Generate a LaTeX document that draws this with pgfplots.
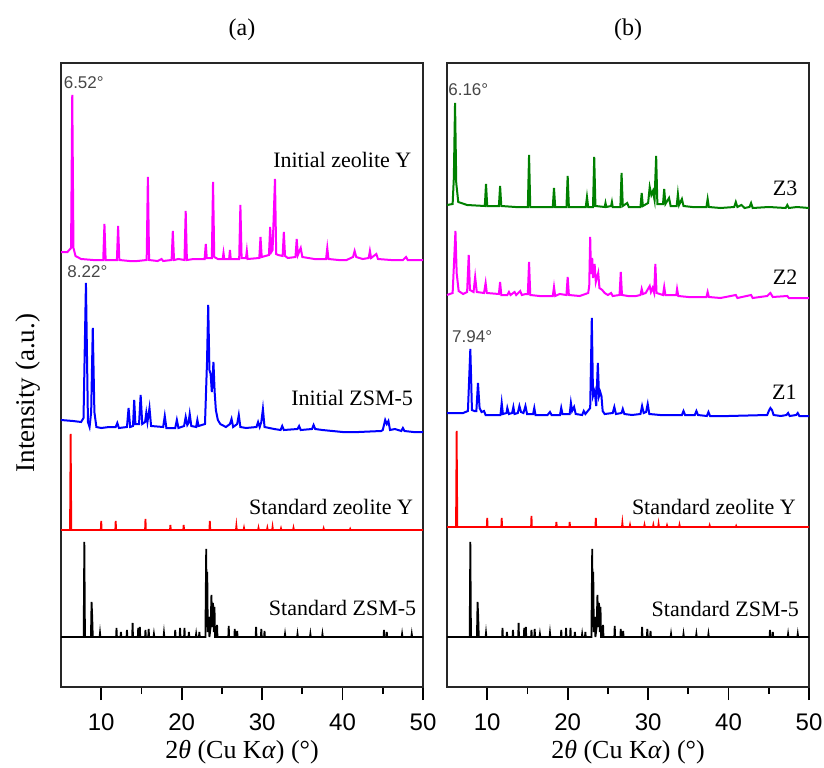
\documentclass[border=0pt]{standalone}
\usepackage{fontspec}
\setmainfont{Liberation Serif}
\newfontfamily\arial{Liberation Sans}
\usepackage{pgfplots}
\usepackage{pgfplotstable}
\pgfplotsset{compat=1.18}

\definecolor{zmag}{RGB}{255,0,255}
\definecolor{zblue}{RGB}{0,0,255}
\definecolor{zred}{RGB}{255,0,0}
\definecolor{zgreen}{RGB}{0,128,0}
\definecolor{pklab}{RGB}{70,70,70}

% standard patterns (intensity above own baseline, arbitrary units)
\pgfplotstableread[row sep=\\]{t I\\
5 0\\ 7.82 0\\ 7.9 95\\ 7.98 0\\ 8.72 0\\ 8.8 35\\ 8.88 20\\ 8.95 0\\ 9.8 0\\ 9.85 4\\ 9.9 0\\
11.85 0\\ 11.9 9\\ 11.95 0\\ 12.4 0\\ 12.45 5\\ 12.5 0\\ 13.15 0\\ 13.2 7\\ 13.25 0\\
13.85 0\\ 13.9 14\\ 13.95 0\\ 14.55 0\\ 14.6 9\\ 14.65 0\\ 14.75 0\\ 14.8 10\\ 14.85 0\\
15.45 0\\ 15.5 7\\ 15.55 0\\ 15.85 0\\ 15.9 8\\ 15.95 0\\ 16.5 0\\ 16.55 3\\ 16.6 0\\
17.75 0\\ 17.8 4\\ 17.85 0\\ 19.15 0\\ 19.2 7\\ 19.25 0\\ 19.75 0\\ 19.8 9\\ 19.85 0\\
20.3 0\\ 20.35 9\\ 20.4 0\\ 20.85 0\\ 20.9 5\\ 20.95 0\\ 21.75 0\\ 21.8 3\\ 21.85 0\\
22.15 0\\ 22.2 5\\ 22.25 0\\ 22.95 0\\ 23.05 88\\ 23.12 10\\ 23.18 65\\ 23.25 5\\ 23.35 20\\
23.45 0\\ 23.6 10\\ 23.7 42\\ 23.8 10\\ 23.9 34\\ 24.0 5\\ 24.08 30\\ 24.15 0\\
24.35 0\\ 24.4 12\\ 24.45 0\\ 25.8 0\\ 25.85 11\\ 25.9 0\\ 26.55 0\\ 26.6 8\\ 26.65 0\\
26.85 0\\ 26.9 6\\ 26.95 0\\ 29.2 0\\ 29.25 10\\ 29.3 0\\ 29.85 0\\ 29.9 8\\ 29.95 0\\
30.25 0\\ 30.3 6\\ 30.35 0\\ 32.8 0\\ 32.85 3\\ 32.9 0\\ 34.35 0\\ 34.4 3\\ 34.45 0\\
35.95 0\\ 36.0 3\\ 36.05 0\\ 37.45 0\\ 37.5 3\\ 37.55 0\\ 45.1 0\\ 45.15 7\\ 45.2 0\\
45.45 0\\ 45.5 5\\ 45.55 0\\ 47.35 0\\ 47.4 3\\ 47.45 0\\ 48.55 0\\ 48.6 3\\ 48.65 0\\ 50 0\\
}\stdZSM

\pgfplotstableread[row sep=\\]{t I\\
5 0\\ 6.12 0\\ 6.2 96\\ 6.28 0\\ 9.95 0\\ 10.0 9\\ 10.05 0\\ 11.75 0\\ 11.8 9\\ 11.85 0\\
15.45 0\\ 15.5 11\\ 15.55 0\\ 18.55 0\\ 18.6 5\\ 18.65 0\\ 20.2 0\\ 20.25 5\\ 20.3 0\\
23.45 0\\ 23.5 9\\ 23.55 0\\ 26.75 0\\ 26.8 4\\ 26.85 0\\ 27.7 0\\ 27.75 2\\ 27.8 0\\
29.5 0\\ 29.55 2\\ 29.6 0\\ 30.6 0\\ 30.65 2\\ 30.7 0\\ 31.25 0\\ 31.3 3\\ 31.35 0\\
32.3 0\\ 32.35 1.5\\ 32.4 0\\ 33.85 0\\ 33.9 2\\ 33.95 0\\ 37.6 0\\ 37.65 1.5\\ 37.7 0\\
40.9 0\\ 40.95 1\\ 41.0 0\\ 50 0\\
}\stdY

% measured patterns
\pgfplotstableread[row sep=\\]{t I\\
5 8\\ 5.8 8\\ 6.25 12\\ 6.4 165\\ 6.55 12\\ 6.8 4\\ 7.5 1\\ 9.0 0\\ 10.25 0\\ 10.4 36\\ 10.55 0\\
11.95 0\\ 12.1 34\\ 12.25 0\\ 13.5 -1\\ 14.5 -1\\ 15.65 0\\ 15.8 83\\ 15.95 0\\ 17.0 -1\\
17.5 1\\ 17.7 -1\\ 18.75 0\\ 18.9 29\\ 19.05 0\\ 19.6 1\\ 20.35 0\\ 20.5 49\\ 20.65 0\\
21.5 1\\ 22.85 1\\ 23.0 16\\ 23.12 2\\ 23.75 2\\ 23.9 78\\ 24.05 3\\ 24.5 1\\ 25.1 1\\
25.2 7\\ 25.3 1\\ 25.9 1\\ 26.0 10\\ 26.1 1\\ 27.15 1\\ 27.3 55\\ 27.45 2\\ 28.0 2\\
28.1 9\\ 28.2 1\\ 29.65 2\\ 29.8 23\\ 29.95 3\\ 30.85 5\\ 31.0 33\\ 31.15 8\\ 31.3 10\\
31.6 81\\ 31.75 6\\ 32.0 5\\ 32.55 4\\ 32.7 28\\ 32.85 4\\ 33.2 2\\ 34.15 3\\ 34.3 21\\
34.45 5\\ 34.8 12\\ 35.0 3\\ 36.5 1\\ 37.95 1\\ 38.1 12\\ 38.25 1\\ 39.5 0\\ 40.5 0\\
41.3 3\\ 41.5 9\\ 41.7 3\\ 42.5 1\\ 43.25 2\\ 43.4 9\\ 43.55 2\\ 44.2 6\\ 44.4 1\\ 46 0\\
47.5 0\\ 47.9 3\\ 48.1 0\\ 50 0\\
}\iniY

\pgfplotstableread[row sep=\\]{t I\\
5 12\\ 6.5 11\\ 7.5 10\\ 7.8 14\\ 8.1 149\\ 8.35 10\\ 8.55 5\\ 8.75 20\\ 8.95 104\\ 9.15 20\\
9.4 5\\ 10 4\\ 11 5\\ 11.8 5\\ 12.0 9\\ 12.2 4\\ 13.2 5\\ 13.4 24\\ 13.6 5\\ 13.95 6\\
14.1 32\\ 14.25 8\\ 14.7 8\\ 14.9 37\\ 15.1 8\\ 15.45 10\\ 15.6 19\\ 15.75 10\\ 16.0 24\\
16.2 6\\ 17.7 5\\ 17.9 16\\ 18.1 4\\ 19.2 4\\ 19.4 12\\ 19.6 4\\ 20.3 6\\ 20.5 15\\ 20.7 7\\
20.85 9\\ 21.0 18\\ 21.2 6\\ 21.8 5\\ 21.95 12\\ 22.1 6\\ 22.9 8\\ 23.15 70\\ 23.3 127\\
23.45 62\\ 23.6 58\\ 23.75 40\\ 23.95 70\\ 24.1 40\\ 24.25 22\\ 24.5 12\\ 24.8 8\\ 25.5 5\\
26.0 8\\ 26.2 13\\ 26.4 5\\ 26.9 8\\ 27.1 17\\ 27.3 5\\ 28 4\\ 29.3 5\\ 29.5 10\\ 29.7 5\\
29.9 10\\ 30.1 23\\ 30.3 5\\ 31.5 3\\ 32.3 2\\ 32.5 6\\ 32.7 2\\ 34.4 3\\ 34.6 6\\ 34.8 2\\
36.2 3\\ 36.4 7\\ 36.6 3\\ 37.5 2\\ 40 0\\ 42 0\\ 44.8 1\\ 45.0 2\\ 45.3 12\\ 45.5 8\\
45.7 11\\ 45.9 2\\ 46.5 3\\ 47.3 1\\ 47.5 4\\ 47.7 1\\ 48.8 0\\ 50 0\\
}\iniZSM

\pgfplotstableread[row sep=\\]{t I\\
5 3\\ 5.7 4\\ 5.85 30\\ 6.0 105\\ 6.15 25\\ 6.4 6\\ 7.5 3\\ 9.7 2\\ 9.85 24\\ 10.0 2\\
11.45 2\\ 11.6 22\\ 11.75 2\\ 13.5 1\\ 15.05 1\\ 15.2 53\\ 15.35 1\\ 17.0 1\\ 18.15 1\\
18.3 20\\ 18.45 1\\ 19.85 1\\ 20.0 32\\ 20.15 1\\ 22.25 1\\ 22.4 11\\ 22.55 1\\ 23.15 1\\
23.3 51\\ 23.45 2\\ 24.6 1\\ 24.7 5\\ 24.8 1\\ 25.4 2\\ 25.5 6\\ 25.6 1\\ 26.55 1\\
26.7 35\\ 26.85 2\\ 27.4 5\\ 27.6 1\\ 29.05 1\\ 29.2 15\\ 29.35 2\\ 30.0 5\\ 30.2 21\\
30.4 13\\ 30.6 17\\ 30.8 8\\ 31.0 52\\ 31.15 4\\ 31.85 4\\ 32.0 19\\ 32.15 4\\ 32.6 10\\
32.8 2\\ 33.55 2\\ 33.7 14\\ 33.85 3\\ 34.2 9\\ 34.4 2\\ 35.5 1\\ 37.25 1\\ 37.4 9\\
37.55 1\\ 39 0\\ 40.7 1\\ 40.9 6\\ 41.1 1\\ 41.6 3\\ 42.0 0\\ 42.6 1\\ 42.8 5\\ 43.0 0\\
45 1\\ 47.1 0\\ 47.3 3\\ 47.5 0\\ 48.5 1\\ 50 0\\
}\zthree

\pgfplotstableread[row sep=\\]{t I\\
5 3\\ 5.7 5\\ 5.9 40\\ 6.05 67\\ 6.2 25\\ 6.45 7\\ 7.0 4\\ 7.5 6\\ 7.7 43\\ 7.85 8\\ 8.3 6\\
8.5 21\\ 8.7 6\\ 9.6 5\\ 9.8 15\\ 9.95 5\\ 11.45 4\\ 11.6 16\\ 11.75 3\\ 12.5 3\\ 12.7 6\\
12.9 3\\ 13.4 6\\ 13.6 3\\ 14.1 7\\ 14.3 3\\ 14.8 4\\ 15.05 4\\ 15.2 36\\ 15.35 3\\ 16.5 2\\
17.5 2\\ 18.15 2\\ 18.3 11\\ 18.45 2\\ 19.0 4\\ 19.85 3\\ 20.0 21\\ 20.15 3\\ 21.5 2\\
22.55 5\\ 22.68 12\\ 22.8 61\\ 22.9 24\\ 23.05 40\\ 23.15 20\\ 23.35 34\\ 23.5 16\\ 23.8 25\\
23.95 10\\ 24.3 8\\ 24.6 5\\ 25.0 3\\ 25.4 5\\ 25.6 2\\ 26.45 3\\ 26.6 26\\ 26.75 3\\
27.5 2\\ 28.5 2\\ 29.05 3\\ 29.2 9\\ 29.35 4\\ 29.7 5\\ 30.2 12\\ 30.35 6\\ 30.55 10\\
30.75 5\\ 30.9 34\\ 31.05 5\\ 31.85 3\\ 32.0 11\\ 32.15 3\\ 33.5 3\\ 33.6 9\\ 33.75 2\\
35 1\\ 37.25 1\\ 37.4 6\\ 37.55 1\\ 39 0\\ 40.9 3\\ 41.1 0\\ 42.8 3\\ 43.0 0\\ 44.8 2\\
45.2 5\\ 45.5 1\\ 47.3 2\\ 47.5 0\\ 50 0\\
}\ztwo

\pgfplotstableread[row sep=\\]{t I\\
5 3\\ 7.0 3\\ 7.6 5\\ 7.9 67\\ 8.1 6\\ 8.4 5\\ 8.65 5\\ 8.85 33\\ 9.05 8\\ 9.3 4\\ 9.6 5\\
9.8 1\\ 11.65 1\\ 11.8 13\\ 11.95 2\\ 12.4 3\\ 12.5 8\\ 12.7 2\\ 13.1 3\\ 13.25 9\\ 13.4 2\\
13.8 3\\ 14.0 10\\ 14.2 4\\ 14.5 3\\ 14.75 10\\ 14.95 2\\ 15.7 2\\ 15.85 8\\ 16.0 1\\
17.5 1\\ 17.8 4\\ 18.0 1\\ 19.05 1\\ 19.2 8\\ 19.35 2\\ 20.25 2\\ 20.4 13\\ 20.55 5\\
20.8 9\\ 21.0 2\\ 21.8 1\\ 22.0 5\\ 22.2 2\\ 22.8 8\\ 23.0 98\\ 23.15 20\\ 23.35 25\\
23.55 10\\ 23.75 53\\ 23.9 20\\ 24.05 24\\ 24.2 20\\ 24.35 5\\ 24.6 2\\ 25.6 3\\ 25.8 9\\
26.0 2\\ 26.7 3\\ 26.85 7\\ 27.05 2\\ 28 1\\ 29.05 2\\ 29.25 10\\ 29.45 3\\ 29.75 4\\
29.95 12\\ 30.15 2\\ 31.5 1\\ 32.5 1\\ 34.2 1\\ 34.4 5\\ 34.6 1\\ 35.8 1\\ 36.0 5\\ 36.2 1\\
37.3 0\\ 37.5 4\\ 37.7 0\\ 40 0\\ 44.8 1\\ 45.0 5\\ 45.2 8\\ 45.4 6\\ 45.6 1\\ 46.5 0\\
47.2 1\\ 47.4 3\\ 47.6 0\\ 48.4 1\\ 48.6 3\\ 48.8 0\\ 50 0\\
}\zone

\pgfplotsset{
  xrdpanel/.style={
    anchor=south west, scale only axis,
    width=181pt, height=312pt,
    xmin=5, xmax=50, ymin=0, ymax=624,
    xtick={10,20,30,40,50}, minor xtick={15,25,35,45},
    ytick=\empty, xtick pos=left, tick align=outside,
    major tick length=6.5pt, minor tick length=3.5pt,
    every tick/.style={black, line width=0.9pt},
    axis line style={line width=0.9pt, black!85},
    /pgf/number format/assume math mode=true,
    xticklabel style={font=\fontsize{12}{12}\selectfont\arial, inner sep=2pt, yshift=-4.5pt},
    xlabel={2\textit{θ} (Cu K\textit{α}) (°)},
    xlabel style={at={(axis description cs:0.5,0)}, anchor=center, yshift=-32.5pt,
      font=\fontsize{13}{13}\selectfont},
    clip=false,
  },
}
\tikzset{
  lab/.style={anchor=east, font=\fontsize{11}{11}\selectfont, inner sep=0pt},
  pk/.style={anchor=west, font=\fontsize{8.5}{8.5}\selectfont\arial, text=pklab, inner sep=0pt},
}

\begin{document}
\begin{tikzpicture}
\path[use as bounding box] (-30.5pt,-40pt) rectangle (381.5pt,343.5pt);

\begin{axis}[xrdpanel, at={(0pt,0pt)}]
\addplot[black, line width=0.9pt] table[x=t, y expr=\thisrow{I}+50] {\stdZSM};
\addplot[zred, line width=0.9pt] table[x=t, y expr=\thisrow{I}+157] {\stdY};
\addplot[zblue, line width=1pt] table[x=t, y expr=\thisrow{I}+255] {\iniZSM};
\addplot[zmag, line width=1pt] table[x=t, y expr=\thisrow{I}+427] {\iniY};
\node[lab] at (axis cs:48.6,527) {Initial zeolite Y};
\node[lab] at (axis cs:48.8,289) {Initial ZSM-5};
\node[lab] at (axis cs:48.8,180) {Standard zeolite Y};
\node[lab] at (axis cs:49.2,79) {Standard ZSM-5};
\node[pk] at (axis cs:5.3,604) {6.52°};
\node[pk] at (axis cs:5.75,415) {8.22°};
\node[font=\fontsize{12}{12}\selectfont] at (rel axis cs:0.5,1) [yshift=16.5pt] {(a)};
\end{axis}
\node[font=\fontsize{13.5}{13.5}\selectfont, rotate=90] at (-16.5pt,147pt) {Intensity (a.u.)};

\begin{axis}[xrdpanel, at={(193pt,0pt)}]
\addplot[black, line width=0.9pt] table[x=t, y expr=\thisrow{I}+50] {\stdZSM};
\addplot[zred, line width=0.9pt] table[x=t, y expr=\thisrow{I}+160] {\stdY};
\addplot[zblue, line width=1pt] table[x=t, y expr=\thisrow{I}+271] {\zone};
\addplot[zmag, line width=1pt] table[x=t, y expr=\thisrow{I}+389] {\ztwo};
\addplot[zgreen, line width=1pt] table[x=t, y expr=\thisrow{I}+479] {\zthree};
\node[lab] at (axis cs:48.6,499) {Z3};
\node[lab] at (axis cs:48.6,410) {Z2};
\node[lab] at (axis cs:48.5,295) {Z1};
\node[lab] at (axis cs:48.4,180) {Standard zeolite Y};
\node[lab] at (axis cs:48.8,78) {Standard ZSM-5};
\node[pk] at (axis cs:5.12,597) {6.16°};
\node[pk] at (axis cs:5.6,350) {7.94°};
\node[font=\fontsize{12}{12}\selectfont] at (rel axis cs:0.5,1) [yshift=16.5pt] {(b)};
\end{axis}
\end{tikzpicture}
\end{document}
